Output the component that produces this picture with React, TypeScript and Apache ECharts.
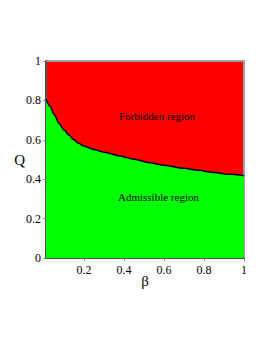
import React, { useEffect, useRef } from "react";
import * as echarts from "echarts";

const betaValues = [0.01, 0.03, 0.05, 0.075, 0.1, 0.125, 0.15, 0.175, 0.2, 0.25, 0.3, 0.38, 0.45, 0.53, 0.6, 0.7, 0.77, 0.85, 0.93, 1.0];
const qValues = [0.807, 0.77, 0.73, 0.683, 0.65, 0.624, 0.6, 0.581, 0.568, 0.551, 0.537, 0.518, 0.501, 0.484, 0.471, 0.455, 0.445, 0.434, 0.425, 0.418];
const regionLabels = ["Forbidden region", "Admissible region"];
const xName = "β";
const yName = "Q";

const FONT = "'Liberation Serif', 'Times New Roman', serif";

export default function App() {
  const ref = useRef<HTMLDivElement>(null);
  useEffect(() => {
    if (!ref.current) return;
    const chart = echarts.init(ref.current, null, { renderer: "svg" });
    const data = betaValues.map((b, i) => [b, qValues[i]]);
    chart.setOption({
      animation: false,
      backgroundColor: "#ffffff",
      textStyle: { fontFamily: FONT },
      grid: {
        left: 46,
        right: 22,
        top: 61,
        bottom: 86,
        show: true,
        backgroundColor: "#ff0000",
        borderColor: "#a0a0a0",
        borderWidth: 2,
      },
      xAxis: {
        type: "value",
        min: 0.01,
        max: 1,
        name: xName,
        nameLocation: "middle",
        nameGap: 15,
        nameMoveOverlap: false,
        nameTextStyle: { fontFamily: FONT, fontSize: 15, color: "#000" },
        axisLine: { show: true, onZero: false, lineStyle: { color: "#333", width: 1.5 } },
        axisTick: { show: true, length: 3, lineStyle: { color: "#888" } },
        axisLabel: { showMinLabel: false, fontFamily: FONT, fontSize: 12, color: "#000", margin: 6 },
        splitLine: { show: false },
      },
      yAxis: {
        type: "value",
        min: 0,
        max: 1,
        interval: 0.2,
        name: yName,
        nameLocation: "middle",
        nameGap: 21,
        nameMoveOverlap: false,
        nameRotate: 0,
        nameTextStyle: { fontFamily: FONT, fontSize: 15, color: "#000" },
        axisLine: { show: true, lineStyle: { color: "#333", width: 1.5 } },
        axisTick: { show: true, length: 3, lineStyle: { color: "#888" } },
        axisLabel: { fontFamily: FONT, fontSize: 12, color: "#000", margin: 5 },
        splitLine: { show: false },
      },
      series: [
        {
          type: "line",
          data,
          smooth: 0.3,
          smoothMonotone: "x",
          symbol: "none",
          lineStyle: { color: "#000", width: 1.5 },
          areaStyle: { color: "#00ff00", opacity: 1, origin: "start" },
          z: 2,
        },
      ],
      graphic: [
        {
          type: "text",
          left: 119,
          top: 110,
          style: { text: regionLabels[0], fontFamily: FONT, fontSize: 11, fill: "#000" },
          z: 10,
        },
        {
          type: "text",
          left: 118,
          top: 191,
          style: { text: regionLabels[1], fontFamily: FONT, fontSize: 11, fill: "#000" },
          z: 10,
        },
      ],
    });
    return () => chart.dispose();
  }, []);
  return (
    <div
      ref={ref}
      style={{ position: "fixed", left: 0, top: 0, width: 266, height: 344 }}
    />
  );
}
